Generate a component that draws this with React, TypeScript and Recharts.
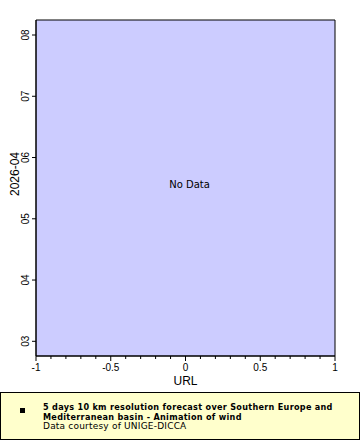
import React from 'react'
import { ScatterChart, Scatter, XAxis, YAxis, ReferenceArea, Label } from 'recharts'

// no points in this chart - the source shows "No Data"
const points: { x: number; y: number }[] = []

const xDomain = [-1, 1]
const xTicks = [-1, -0.9, -0.8, -0.7, -0.6, -0.5, -0.4, -0.3, -0.2, -0.1, 0, 0.1, 0.2, 0.3, 0.4, 0.5, 0.6, 0.7, 0.8, 0.9, 1]
const xMajorTicks = [-1, -0.5, 0, 0.5, 1]
const xMajorLabels = ['-1', '-0.5', '0', '0.5', '1']

const yDomain = [2.76, 8.245]
const yTicks = [3, 4, 5, 6, 7, 8]
const yTickLabels = ['03', '04', '05', '06', '07', '08']

const xTitle = 'URL'
const yTitle = '2026-04'
const emptyText = 'No Data'
const legendTitle = '5 days 10 km resolution forecast over Southern Europe and Mediterranean basin - Animation of wind'
const legendSub = 'Data courtesy of UNIGE-DICCA'

const font = '"DejaVu Sans", Verdana, sans-serif'
const axisFont = '"Liberation Sans", Arial, sans-serif'

const XTick = (props: any) => {
  const { x, y, payload } = props
  const i = xMajorTicks.findIndex((t) => Math.abs(t - payload.value) < 1e-6)
  const major = i >= 0
  return (
    <g>
      <line x1={x} x2={x} y1={y} y2={y + (major ? 5 : 3)} stroke="#000" />
      {major && (
        <text x={x} y={y + 15} textAnchor="middle" fontSize={10} fontFamily={axisFont} fill="#000">
          {xMajorLabels[i]}
        </text>
      )}
    </g>
  )
}

const YTick = (props: any) => {
  const { x, y, payload } = props
  const i = yTicks.indexOf(payload.value)
  return (
    <g>
      <line x1={x - 4} x2={x} y1={y} y2={y} stroke="#000" />
      <text
        x={x - 7}
        y={y}
        textAnchor="middle"
        fontSize={10}
        fontFamily={axisFont}
        fill="#000"
        transform={`rotate(-90, ${x - 7}, ${y})`}
      >
        {i >= 0 ? yTickLabels[i] : ''}
      </text>
    </g>
  )
}

export default function App() {
  return (
    <div style={{ position: 'absolute', left: 0, top: 0, width: 360, height: 440, background: '#fff' }}>
      <ScatterChart width={360} height={390} margin={{ top: 20, right: 25, left: 0, bottom: 0 }}>
        <XAxis
          type="number"
          dataKey="x"
          domain={xDomain}
          ticks={xTicks}
          interval={0}
          tickSize={0}
          tickMargin={0}
          tick={<XTick />}
          height={34}
          axisLine={{ stroke: '#000' }}
          allowDataOverflow
        >
          <Label
            content={(p: any) => {
              const vb = p.viewBox || { x: 36, y: 356, width: 299 }
              const cx = vb.x + vb.width / 2
              return (
                <text x={cx} y={vb.y + 29} textAnchor="middle" fontSize={12} fontFamily={axisFont} fill="#000">
                  {xTitle}
                </text>
              )
            }}
          />
        </XAxis>
        <YAxis
          type="number"
          dataKey="y"
          domain={yDomain}
          ticks={yTicks}
          interval={0}
          tickSize={0}
          tickMargin={0}
          tick={<YTick />}
          width={36}
          axisLine={{ stroke: '#000' }}
          allowDataOverflow
        >
          <Label
            content={(p: any) => {
              const vb = p.viewBox || { y: 20, height: 336 }
              const cy = vb.y + vb.height / 2 - 14
              return (
                <text
                  x={15}
                  y={cy}
                  textAnchor="middle"
                  dominantBaseline="central"
                  fontSize={12}
                  fontFamily={axisFont}
                  fill="#000"
                  transform={`rotate(-90, 15, ${cy})`}
                >
                  {yTitle}
                </text>
              )
            }}
          />
        </YAxis>
        <ReferenceArea
          x1={xDomain[0]}
          x2={xDomain[1]}
          y1={yDomain[0]}
          y2={yDomain[1]}
          fill="#ccccff"
          fillOpacity={1}
          stroke="#000"
          strokeWidth={1}
          ifOverflow="extendDomain"
        >
          <Label value={emptyText} position="center" dx={4} dy={-4} fontSize={10} fontFamily={font} fill="#000" />
        </ReferenceArea>
        <Scatter data={points} fill="#000" isAnimationActive={false} />
      </ScatterChart>
      <div
        style={{
          position: 'absolute',
          left: 0,
          top: 392,
          width: 358,
          height: 46,
          background: '#ffffcc',
          border: '1px solid #000',
          fontFamily: font,
          fontSize: 9,
          lineHeight: '9.5px',
          color: '#000',
        }}
      >
        <div style={{ position: 'absolute', left: 19, top: 15, width: 5, height: 5, background: '#000' }} />
        <div style={{ position: 'absolute', left: 42, top: 10, width: 310 }}>
          <div
            style={{
              fontWeight: 'bold',
              letterSpacing: 0.3,
              fontFamily: '"DejaVu Sans Condensed", "DejaVu Sans", sans-serif',
            }}
          >
            {legendTitle}
          </div>
          <div style={{ letterSpacing: 0.2 }}>{legendSub}</div>
        </div>
      </div>
    </div>
  )
}
